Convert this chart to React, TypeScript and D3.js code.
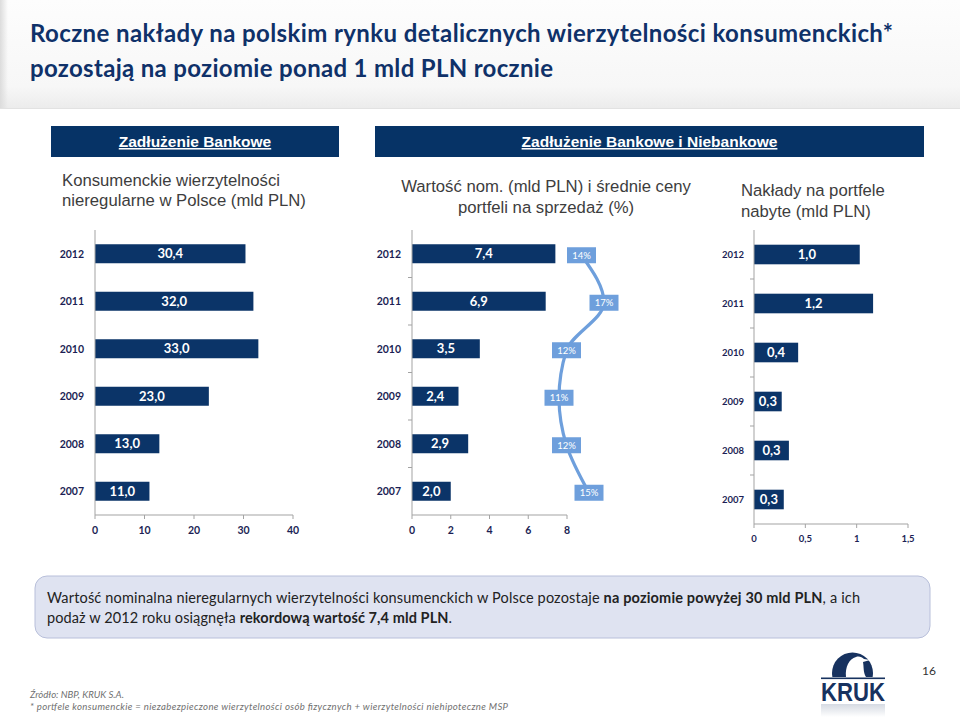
import React from 'react';
import * as d3 from 'd3';

// data
const years = ['2012', '2011', '2010', '2009', '2008', '2007'];
const debtValues = [30.4, 32.0, 33.0, 23.0, 13.0, 11.0];
const saleValues = [7.4, 6.9, 3.5, 2.4, 2.9, 2.0];
const salePrices = [14, 17, 12, 11, 12, 15];
const purchaseValues = [1.03, 1.16, 0.43, 0.27, 0.34, 0.29];
const debtTicks = [0, 10, 20, 30, 40];
const saleTicks = [0, 2, 4, 6, 8];
const purchaseTicks = [0, 0.5, 1, 1.5];

const NAVY = '#0b3468';
const HEAD = '#063366';
const INK = '#1c1f55';
const AXIS = '#a3a3a3';
const LIGHT = '#6e9fdc';
const CAL = 'Lato, "Open Sans", sans-serif';
const ARIAL = '"Liberation Sans", Arial, sans-serif';

const comma = (s: string) => s.replace('.', ',');

type PanelProps = {
  values: number[];
  ticks: number[];
  x0: number;
  x1: number;
  y0: number;
  y1: number;
  yearX: number;
  yearSize: number;
  catTicks: boolean;
};

function Panel({ values, ticks, x0, x1, y0, y1, yearX, yearSize, catTicks }: PanelProps) {
  const x = d3.scaleLinear().domain([0, ticks[ticks.length - 1]]).range([x0, x1]);
  const y = d3.scaleBand().domain(years).range([y0, y1]).paddingInner(0.6).paddingOuter(0.3);
  const bw = y.bandwidth();
  return (
    <g>
      {years.map((yr, i) => {
        const top = y(yr) as number;
        return (
          <g key={yr}>
            <rect x={x(0)} y={top} width={x(values[i]) - x(0)} height={bw} fill={NAVY} />
            <text
              x={(x(0) + x(values[i])) / 2}
              y={top + bw / 2}
              dy="0.36em"
              textAnchor="middle"
              fill="#fff"
              fontFamily={CAL}
              fontWeight={700}
              fontSize={13}
            >
              {comma(d3.format('.1f')(values[i]))}
            </text>
            <text
              x={yearX}
              y={top + bw / 2}
              dy="0.36em"
              textAnchor="end"
              fill={INK}
              fontFamily={CAL}
              fontWeight={700}
              fontSize={yearSize}
            >
              {yr}
            </text>
          </g>
        );
      })}
      <line x1={x0} x2={x0} y1={y0} y2={y1} stroke={AXIS} strokeWidth={1} />
      <line x1={x0} x2={x1} y1={y1} y2={y1} stroke={AXIS} strokeWidth={1} />
      {catTicks &&
        years.slice(1).map((yr) => {
          const yy = (y(yr) as number) - (y.step() - bw) / 2;
          return <line key={yr} x1={x0 - 4} x2={x0} y1={yy} y2={yy} stroke={AXIS} />;
        })}
      {ticks.map((t) => (
        <g key={t}>
          <line x1={x(t)} x2={x(t)} y1={y1} y2={y1 + 4} stroke={AXIS} />
          <text
            x={x(t)}
            y={y1 + 15}
            dy="0.36em"
            textAnchor="middle"
            fill={INK}
            fontFamily={CAL}
            fontWeight={700}
            fontSize={yearSize}
          >
            {comma(String(t))}
          </text>
        </g>
      ))}
    </g>
  );
}

function PriceLine() {
  // same band layout as the middle panel
  const y = d3.scaleBand().domain(years).range([230, 515]).paddingInner(0.6).paddingOuter(0.3);
  const px = d3.scaleLinear().domain([11, 17]).range([559, 604]);
  const pts: [number, number][] = years.map((yr, i) => [
    px(salePrices[i]),
    (y(yr) as number) + y.bandwidth() / 2 + 1.5,
  ]);
  const line = d3.line().curve(d3.curveMonotoneY);
  return (
    <g>
      <path d={line(pts) || ''} fill="none" stroke={LIGHT} strokeWidth={3.2} />
      {pts.map((p, i) => (
        <g key={i}>
          <rect x={p[0] - 14.5} y={p[1] - 8} width={29} height={16} fill={LIGHT} />
          <text
            x={p[0]}
            y={p[1]}
            dy="0.36em"
            textAnchor="middle"
            fill="#fff"
            fontFamily={CAL}
            fontSize={9.5}
          >
            {salePrices[i]}%
          </text>
        </g>
      ))}
    </g>
  );
}

function Logo() {
  return (
    <g>
      <defs>
        <clipPath id="logoClip">
          <rect x={820} y={640} width={70} height={37} />
        </clipPath>
        <linearGradient id="refl" x1="0" y1="0" x2="0" y2="1">
          <stop offset="0" stopColor="#17325f" stopOpacity={0.18} />
          <stop offset="1" stopColor="#17325f" stopOpacity={0} />
        </linearGradient>
      </defs>
      <circle cx={852.5} cy={673} r={20.5} fill="#17325f" clipPath="url(#logoClip)" />
      <path
        d="M846 677 C845 667 849 659 856 657 C859 656 862 657 864 659 L870 660 L863 662 C864 667 863 672 866 677 Z"
        fill="#fff"
      />
      <rect x={821} y={677.5} width={64} height={1.6} fill="#17325f" />
      <text
        x={853}
        y={701}
        textAnchor="middle"
        fontFamily={ARIAL}
        fontWeight={700}
        fontSize={25}
        fill="#17325f"
        textLength={64}
        lengthAdjust="spacingAndGlyphs"
      >
        KRUK
      </text>
      {/* faint mirrored glow under the wordmark */}
      <rect x={821} y={704} width={64} height={13} fill="url(#refl)" />
    </g>
  );
}

export default function App() {
  return (
    <svg
      width={960}
      height={719}
      style={{ position: 'absolute', left: 0, top: 0, background: '#fff' }}
    >
      <defs>
        <linearGradient id="band" x1="0" y1="0" x2="0" y2="1">
          <stop offset="0" stopColor="#fdfdfd" />
          <stop offset="0.8" stopColor="#f7f7f7" />
          <stop offset="1" stopColor="#ececec" />
        </linearGradient>
        <linearGradient id="bandSide" x1="0" y1="0" x2="1" y2="0">
          <stop offset="0" stopColor="#dcdcdc" />
          <stop offset="1" stopColor="#dcdcdc" stopOpacity={0} />
        </linearGradient>
      </defs>

      {/* title band */}
      <rect x={0} y={0} width={960} height={108} fill="url(#band)" />
      <rect x={0} y={0} width={8} height={108} fill="url(#bandSide)" />
      <line x1={0} x2={960} y1={108.5} y2={108.5} stroke="#e2e2e2" />
      <g fontFamily={CAL} fontWeight={700} fontSize={24} fill="#0f3169">
        <text x={30} y={42} textLength={863} lengthAdjust="spacing">
          Roczne nakłady na polskim rynku detalicznych wierzytelności konsumenckich*
        </text>
        <text x={30} y={77} textLength={523} lengthAdjust="spacing">
          pozostają na poziomie ponad 1 mld PLN rocznie
        </text>
      </g>

      {/* section headers */}
      <rect x={51} y={126} width={288} height={31} fill={HEAD} />
      <rect x={375} y={126} width={549} height={31} fill={HEAD} />
      <g fontFamily={ARIAL} fontWeight={700} fontSize={15.5} fill="#fff" textAnchor="middle" textDecoration="underline">
        <text x={195} y={147}>Zadłużenie Bankowe</text>
        <text x={649.5} y={147}>Zadłużenie Bankowe i Niebankowe</text>
      </g>

      <g fontFamily={ARIAL} fontSize={16.7} fill="#3d3d3d">
        <text x={62} y={185.5}>Konsumenckie wierzytelności</text>
        <text x={62} y={205.5}>nieregularne w Polsce (mld PLN)</text>
        <text x={546} y={192} textAnchor="middle">Wartość nom. (mld PLN) i średnie ceny</text>
        <text x={546} y={213} textAnchor="middle">portfeli na sprzedaż (%)</text>
        <text x={741} y={196}>Nakłady na portfele</text>
        <text x={741} y={217}>nabyte (mld PLN)</text>
      </g>

      <Panel values={debtValues} ticks={debtTicks} x0={95} x1={293} y0={230} y1={515} yearX={84} yearSize={10.5} catTicks={false} />
      <Panel values={saleValues} ticks={saleTicks} x0={412} x1={567} y0={230} y1={515} yearX={401} yearSize={10.5} catTicks={true} />
      <PriceLine />
      <Panel values={purchaseValues} ticks={purchaseTicks} x0={754} x1={908} y0={230} y1={524} yearX={744} yearSize={9.5} catTicks={true} />

      {/* comment box */}
      <rect x={35} y={576} width={895} height={62} rx={12} fill="#dfe3f1" stroke="#b8bfda" />
      <g fontFamily={CAL} fontSize={14.5} fill="#222">
        <text x={47} y={603} textLength={813} lengthAdjust="spacing">
          Wartość nominalna nieregularnych wierzytelności konsumenckich w Polsce pozostaje{' '}
          <tspan fontWeight={700}>na poziomie powyżej 30 mld PLN</tspan>, a ich
        </text>
        <text x={47} y={623} textLength={405} lengthAdjust="spacing">
          podaż w 2012 roku osiągnęła <tspan fontWeight={700}>rekordową wartość 7,4 mld PLN</tspan>.
        </text>
      </g>

      {/* footer */}
      <g fontFamily={CAL} fontStyle="italic" fontSize={9.6} fill="#6f6f6f">
        <text x={30} y={698}>Źródło: NBP, KRUK S.A.</text>
        <text x={30} y={710} textLength={478} lengthAdjust="spacing">
          * portfele konsumenckie = niezabezpieczone wierzytelności osób fizycznych + wierzytelności niehipoteczne MSP
        </text>
      </g>
      <text x={929} y={675} textAnchor="middle" fontFamily={CAL} fontSize={12} fill="#333">
        16
      </text>
      <Logo />
    </svg>
  );
}
